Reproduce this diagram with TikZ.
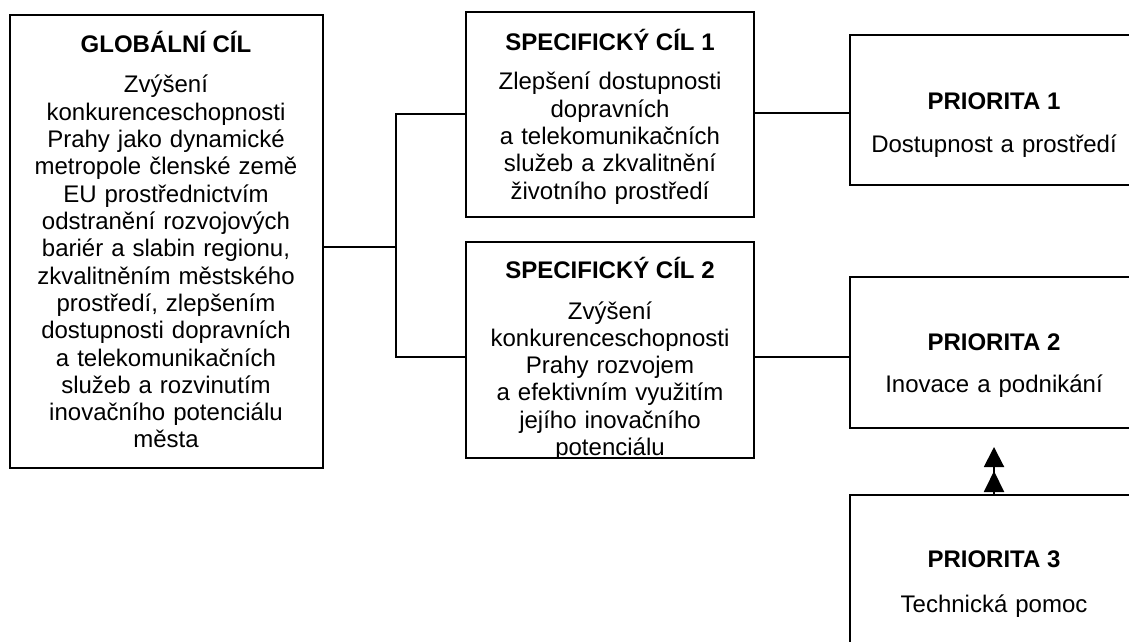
\documentclass[tikz,border=0pt]{standalone}
\usepackage{fontspec}
\setmainfont{Liberation Sans}
\usetikzlibrary{arrows.meta}
\begin{document}
\begin{tikzpicture}[x=0.5pt,y=-0.5pt,line width=1pt,
  box/.style={draw,line width=1pt,inner sep=0pt,outer sep=0pt},
  ttl/.style={font=\fontsize{12}{13.65}\selectfont\bfseries,anchor=base,inner sep=0pt},
  body/.style={font=\fontsize{12}{13.65}\selectfont,anchor=base,inner sep=0pt,text width=170pt,align=center},
  link/.style={line width=1pt},
  dbl/.style={-{Triangle[length=10.5pt,width=10pt,sep=2pt]Triangle[length=10pt,width=10pt]}}]
\useasboundingbox (0,0) rectangle (1129,642);
\clip (0,0) rectangle (1129,642);
\fill[white] (0,0) rectangle (1129,642);

% boxes
\node[box,minimum width=156.5pt,minimum height=226.5pt] (g) at (166,241.5) {};
\node[box,minimum width=144pt,minimum height=102.5pt] (sc1) at (610,114.5) {};
\node[box,minimum width=144pt,minimum height=108pt] (sc2) at (610,350) {};
\node[box,minimum width=144pt,minimum height=75pt] (p1) at (994,110) {};
\node[box,minimum width=144pt,minimum height=75.5pt] (p2) at (994,352.5) {};
\node[box,minimum width=144pt,minimum height=75pt] (p3) at (994,570) {};

% texts
\node[ttl] (gt) at (166,53) {GLOBÁLNÍ CÍL};
\node[body] (gb) at (166,93) {Zvýšení\\konkurenceschopnosti\\Prahy jako dynamické\\metropole členské země\\EU prostřednictvím\\odstranění rozvojových\\bariér a slabin regionu,\\zkvalitněním městského\\prostředí, zlepšením\\dostupnosti dopravních\\a telekomunikačních\\služeb a rozvinutím\\inovačního potenciálu\\města};

\node[ttl] (sc1t) at (610,51) {SPECIFICKÝ CÍL 1};
\node[body] (sc1b) at (610,90) {Zlepšení dostupnosti\\dopravních\\a telekomunikačních\\služeb a zkvalitnění\\životního prostředí};

\node[ttl] (sc2t) at (610,278) {SPECIFICKÝ CÍL 2};
\begin{scope}
\clip (466,242) rectangle (754,458);
\node[body] (sc2b) at (610,319) {Zvýšení\\konkurenceschopnosti\\Prahy rozvojem\\a efektivním využitím\\jejího inovačního\\potenciálu};
\end{scope}

\node[ttl] (p1t) at (994,110) {PRIORITA 1};
\node[body] (p1b) at (994,152) {Dostupnost a prostředí};
\node[ttl] (p2t) at (994,350) {PRIORITA 2};
\node[body] (p2b) at (994,392) {Inovace a podnikání};
\node[ttl] (p3t) at (994,567) {PRIORITA 3};
\node[body] (p3b) at (994,612) {Technická pomoc};

% connectors
\coordinate (jm) at (396,247);
\coordinate (j1) at (396,114);
\coordinate (j2) at (396,357);
\coordinate (c1) at (800,113);
\coordinate (c2) at (800,357);
\draw[link] (g.east |- jm) -- (jm);
\draw[link] (sc1.west |- j1) -- (j1) -- (j2) -- (sc2.west |- j2);
\draw[link] (sc1.east |- c1) -- (p1.west |- c1);
\draw[link] (sc2.east |- c2) -- (p2.west |- c2);
\draw[link,dbl,shorten >=9.5pt] (p3.north) -- (p2.south);
\end{tikzpicture}
\end{document}
